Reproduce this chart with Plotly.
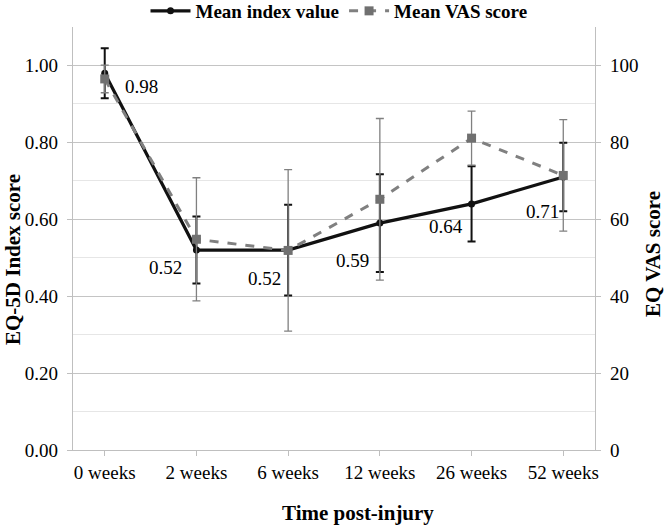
import plotly.graph_objects as go

# data
weeks = ["0 weeks", "2 weeks", "6 weeks", "12 weeks", "26 weeks", "52 weeks"]
index_mean = [0.98, 0.52, 0.52, 0.59, 0.64, 0.71]
index_err = [0.065, 0.087, 0.118, 0.127, 0.098, 0.089]
vas_mean = [96.5, 54.8, 51.9, 65.2, 81.1, 71.4]
vas_err = [3.6, 16.0, 21.0, 21.0, 7.0, 14.5]

# label offsets (px) for the index data labels
label_dx = [37, -31, -24, -27, -26, -21]
label_dy = [-13, -17, -28, -37, -23, -35]

serif = "Times New Roman, Liberation Serif, serif"
axis_gray = "#bfbfbf"

W, H = 666, 526
L, R, T, B = 73, 71, 27, 76
pw, ph = W - L - R, H - T - B


def px_to_paper(x, y):
    # pixel position in the page -> paper coordinates
    return (x - L) / pw, (H - B - y) / ph


fig = go.Figure()

fig.add_trace(go.Scatter(
    x=weeks, y=index_mean, name="Mean index value", mode="lines+markers",
    line=dict(color="#111111", width=3.2),
    marker=dict(symbol="circle", size=7, color="#111111"),
    error_y=dict(type="data", array=index_err, color="#111111", thickness=2, width=4),
    yaxis="y"))

fig.add_trace(go.Scatter(
    x=weeks, y=vas_mean, name="Mean VAS score", mode="lines+markers",
    line=dict(color="#808080", width=3, dash="dash"),
    marker=dict(symbol="square", size=9, color="#707070"),
    error_y=dict(type="data", array=vas_err, color="#808080", thickness=1.3, width=4),
    yaxis="y2"))

# data labels
for w, v, dx, dy in zip(weeks, index_mean, label_dx, label_dy):
    fig.add_annotation(x=w, y=v, xref="x", yref="y", text=f"{v:.2f}",
                       showarrow=False, xshift=dx, yshift=dy,
                       xanchor="center", yanchor="middle",
                       font=dict(family=serif, size=19, color="black"))

# axis titles
title_font = dict(family=serif, size=21, color="black", weight="bold")
for txt, (px, py), ang in [("EQ-5D Index score", (13, 260), -90),
                           ("EQ VAS score", (653, 254), -90),
                           ("Time post-injury", (358, 513), 0)]:
    ax, ay = px_to_paper(px, py)
    fig.add_annotation(x=ax, y=ay, xref="paper", yref="paper", text=txt,
                       xanchor="center", yanchor="middle",
                       showarrow=False, textangle=ang, font=title_font)

fig.update_layout(
    width=W, height=H,
    margin=dict(l=L, r=R, t=T, b=B, autoexpand=False),
    paper_bgcolor="white", plot_bgcolor="white",
    font=dict(family=serif, size=19, color="black"),
    showlegend=True,
    legend=dict(orientation="h", x=px_to_paper(339, 0)[0], xanchor="center",
                y=px_to_paper(0, -8)[1], yanchor="top",
                bgcolor="rgba(0,0,0,0)",
                font=dict(family=serif, size=19, color="black", weight="bold"),
                itemwidth=40, tracegroupgap=0),
    xaxis=dict(type="category", showline=True, linecolor=axis_gray, linewidth=1.3,
               ticks="outside", ticklen=5, tickcolor=axis_gray, showgrid=False,
               tickfont=dict(family=serif, size=19, color="black")),
    yaxis=dict(range=[0, 1.1], dtick=0.2, tickformat=".2f", showline=True,
               linecolor=axis_gray, linewidth=1.3, ticks="outside", ticklen=5,
               tickcolor=axis_gray, gridcolor="#c4c4c4", gridwidth=1.2, zeroline=False,
               ticklabelstandoff=5,
               minor=dict(dtick=0.1, showgrid=True, gridcolor="#e6e6e6", gridwidth=1),
               tickfont=dict(family=serif, size=19, color="black")),
    yaxis2=dict(range=[0, 110], dtick=20, overlaying="y", side="right", showline=True,
                linecolor=axis_gray, linewidth=1.3, ticks="outside", ticklen=5,
                tickcolor=axis_gray, showgrid=False, zeroline=False,
                ticklabelstandoff=5,
                tickfont=dict(family=serif, size=19, color="black")),
)

# the page body has a default 8px margin; drop it so the figure sits at 0,0
fig.write_html("out.html", config={"displayModeBar": False},
               post_script="document.body.style.margin='0';")
